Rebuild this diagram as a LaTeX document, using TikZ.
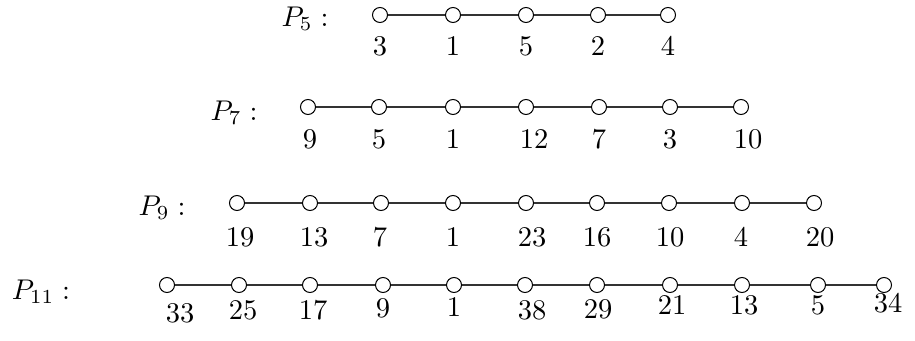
\documentclass[tikz,border=0pt]{standalone}
\usepackage{graphicx}
\newcommand{\bigtxt}[1]{\scalebox{2.85}{#1}}
\begin{document}
\begin{tikzpicture}[x=1pt,y=1pt,
  vtx/.style={circle,draw,line width=1pt,minimum size=15pt,inner sep=0pt,fill=white},
  lab/.style={inner sep=0pt,anchor=center},
  edge/.style={line width=1.2pt,black!80}]
\useasboundingbox (0,0) rectangle (915,340);
% P5
\node[lab] (p5) at (305,321) {\bigtxt{$P_5 :$}};
\foreach \x/\t [count=\i] in {380/3,453/1,526/5,598/2,668/4}{
  \node[vtx] (a\i) at (\x,325) {};
  \node[lab] (la\i) at (\x,294) {\bigtxt{\t}};
}
\draw[edge] (a1)--(a2) (a2)--(a3) (a3)--(a4) (a4)--(a5);
% P7
\node[lab] (p7) at (234,227) {\bigtxt{$P_7 :$}};
\foreach \x/\lx/\t [count=\i] in {308/310/9,379/379/5,453/453/1,526/534/12,599/599/7,670/670/3,741/748/10}{
  \node[vtx] (b\i) at (\x,233) {};
  \node[lab] (lb\i) at (\lx,201) {\bigtxt{\t}};
}
\draw[edge] (b1)--(b2) (b2)--(b3) (b3)--(b4) (b4)--(b5) (b5)--(b6) (b6)--(b7);
% P9
\node[lab] (p9) at (162,132) {\bigtxt{$P_9 :$}};
\foreach \x/\lx/\t [count=\i] in {237/240/19,310/314/13,381/380/7,453/453/1,526/532/23,597/597/16,669/670/10,742/741/4,814/820/20}{
  \node[vtx] (c\i) at (\x,137) {};
  \node[lab] (lc\i) at (\lx,103) {\bigtxt{\t}};
}
\draw[edge] (c1)--(c2) (c2)--(c3) (c3)--(c4) (c4)--(c5) (c5)--(c6) (c6)--(c7) (c7)--(c8) (c8)--(c9);
% P11
\node[lab] (p11) at (41,48) {\bigtxt{$P_{11} :$}};
\foreach \x/\lx/\ly/\t [count=\i] in {167/180/27/33,239/243/30/25,310/313/30/17,383/383/32/9,454/454/33/1,525/532/30/38,597/598/31/29,670/672/35/21,742/744/35/13,818/818/35/5,884/888/37/34}{
  \node[vtx] (d\i) at (\x,55) {};
  \node[lab] (ld\i) at (\lx,\ly) {\bigtxt{\t}};
}
\draw[edge] (d1)--(d2) (d2)--(d3) (d3)--(d4) (d4)--(d5) (d5)--(d6) (d6)--(d7) (d7)--(d8) (d8)--(d9) (d9)--(d10) (d10)--(d11);
\end{tikzpicture}
\end{document}
